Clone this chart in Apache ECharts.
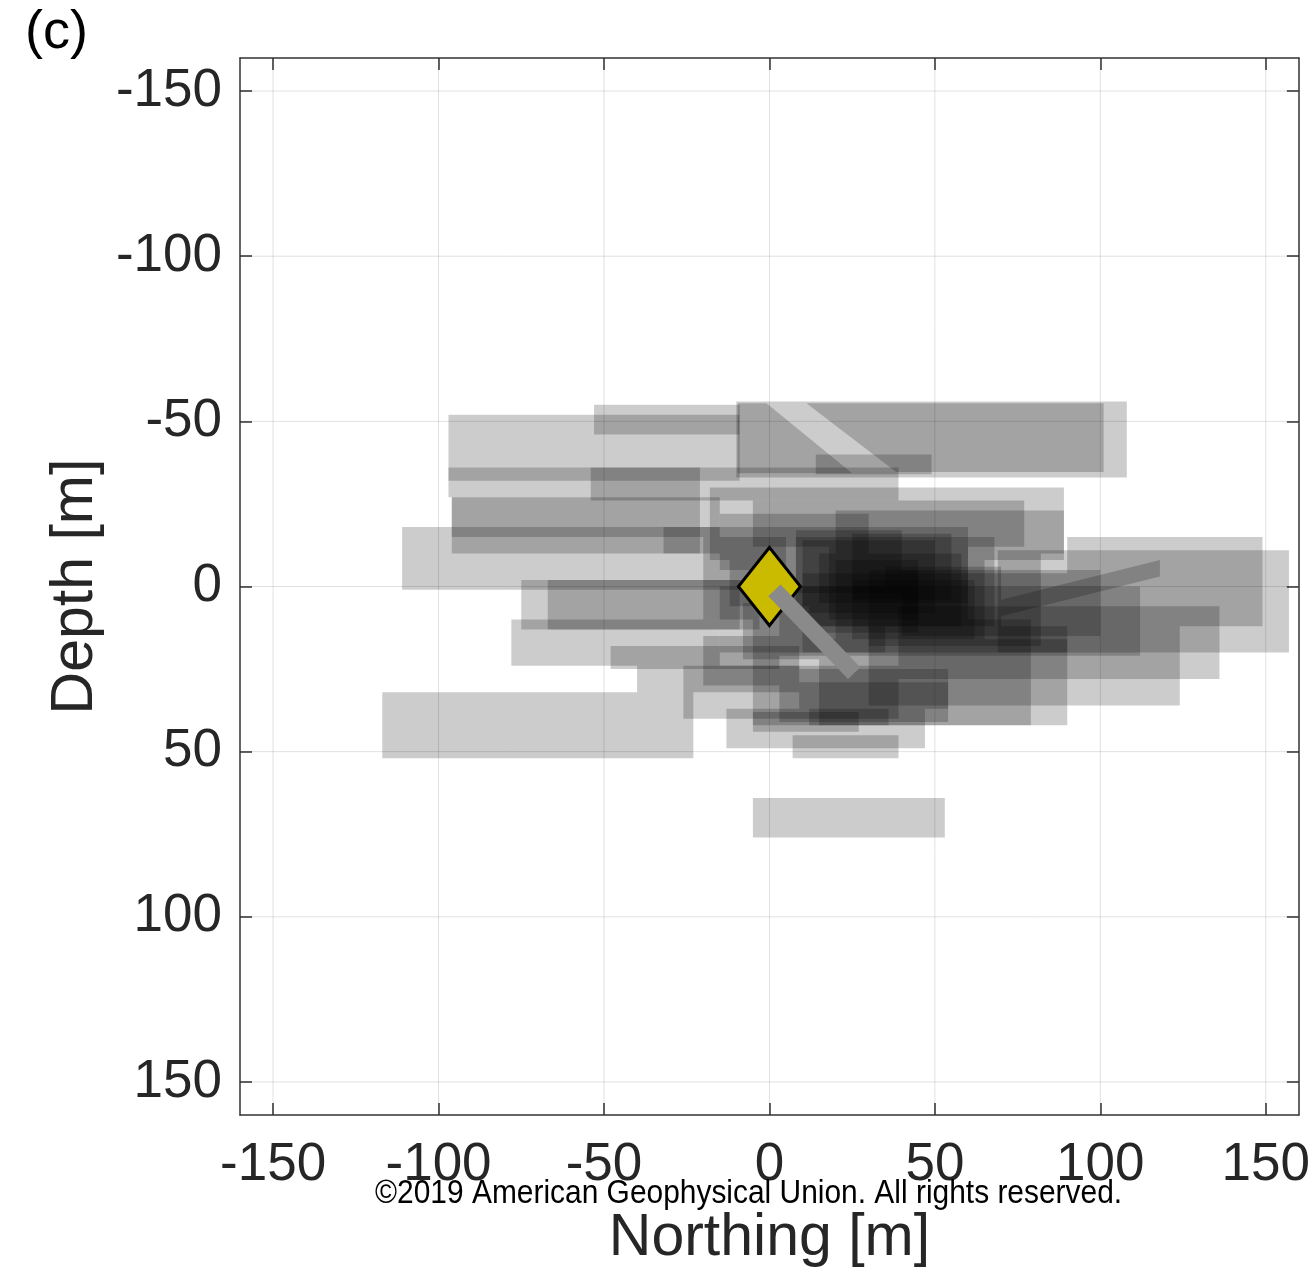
<!DOCTYPE html>
<html>
<head>
<meta charset="utf-8">
<script src="https://cdn.jsdelivr.net/npm/echarts@6/dist/echarts.min.js"></script>
<style>
html,body{margin:0;padding:0;background:#fff;}
#chart{width:1313px;height:1273px;}
</style>
</head>
<body>
<div id="chart"></div>
<script>
// ---- data (metres) ----
const xTicks = [-150, -100, -50, 0, 50, 100, 150];
const yTicks = [-150, -100, -50, 0, 50, 100, 150];
const axisMin = -160;
const axisMax = 160;

// uncertainty boxes: [northMin, northMax, depthMin, depthMax]
const boxesUpper = [
  [-53, -9, -55, -46],
  [-10, 108, -56, -33],
  [14, 49, -40, -34],
  [-97, -9, -52, -32],
  [-97, -21, -36, -27],
  [-54, 39, -36, -26],
  [-96, -21, -27, -10],
  [-96, -15, -27, -15],
  [-111, 0, -18, 1],
  [-18, 89, -30, -8],
  [20, 89, -23, -10],
  [-5, 77, -26, -12]
];
const boxesCentre = [
  [-15, 30, -22, -5],
  [0, 60, -18, 5],
  [8, 68, -15, 12],
  [15, 58, -10, 12],
  [20, 65, -8, 16],
  [5, 45, -5, 10],
  [25, 62, -2, 16],
  [30, 82, -10, 18],
  [10, 90, -4, 20],
  [-15, 35, 0, 20],
  [40, 100, -5, 15],
  [-20, 5, -15, 10],
  [-12, 12, -8, 6],
  [-8, 15, 5, 22],
  [-20, 3, 15, 30],
  [-32, -15, -18, -10],
  [8, 40, -17, 2],
  [10, 50, -14, 8],
  [18, 60, -12, 10],
  [12, 45, -8, 14],
  [25, 55, -16, 4],
  [35, 70, -6, 12]
];
const boxesRight = [
  [69, 157, -11, 20],
  [90, 149, -15, 12],
  [39, 136, 6, 28],
  [30, 124, 12, 36],
  [3, 112, 0, 21],
  [15, 90, 16, 42],
  [-5, 79, 10, 42]
];
const boxesLeft = [
  [-75, -9, -2, 13],
  [-67, -3, -2, 13],
  [-78, -15, 10, 24],
  [-48, 9, 18, 25],
  [-40, 9, 24, 32],
  [-117, -23, 32, 52],
  [-5, 53, 64, 76]
];
const boxesLower = [
  [-13, 47, 37, 49],
  [7, 39, 45, 52],
  [-5, 27, 38, 44],
  [12, 36, 37, 42],
  [9, 54, 29, 37],
  [3, 54, 25, 41],
  [-26, 39, 24, 40]
];
// tilted (rotated) uncertainty boxes, corner points [north, depth]
const tiltedBoxes = [
  [[-9.6, -55.5], [-0.9, -55.5], [25, -34.3], [-9.6, -34.3]],
  [[11.2, -55.5], [101, -55.5], [101, -34.7], [38.3, -34.7]],
  [[70, 4], [118, -8], [118, -3], [70, 9]]
];
// injection point and well trace
const injectionPoint = [[0, 0]];
const wellTrace = [[1.5, 1.2], [25.6, 26.2]];

const allBoxes = boxesUpper.concat(boxesCentre, boxesRight, boxesLeft, boxesLower);

const FONT = '"Liberation Sans", Arial, Helvetica, sans-serif';
const AX = '#333333';

function axisCommon(ticks, showLabel, margin) {
  return {
    type: 'value', min: axisMin, max: axisMax,
    axisLine: {show: true, onZero: false, lineStyle: {color: AX, width: 1.5}},
    axisTick: {show: true, inside: true, length: 12, customValues: ticks, lineStyle: {color: AX, width: 1.5}},
    axisLabel: {show: showLabel, customValues: ticks, fontSize: 53, color: '#262626', fontFamily: FONT, margin: margin},
    splitLine: {show: false}
  };
}

const chart = echarts.init(document.getElementById('chart'), null, {renderer: 'canvas'});

const option = {
  animation: false,
  backgroundColor: '#ffffff',
  title: {
    text: '(c)', left: 20, top: 1,
    textStyle: {fontSize: 54, fontWeight: 'normal', color: '#000', fontFamily: FONT}
  },
  grid: {left: 240, top: 58, width: 1061, height: 1061, containLabel: false},
  xAxis: [
    Object.assign(axisCommon(xTicks, true, 24), {
      position: 'bottom',
      name: 'Northing [m]', nameLocation: 'middle', nameGap: 94,
      nameTextStyle: {fontSize: 59, color: '#262626', fontFamily: FONT}
    }),
    Object.assign(axisCommon(xTicks, false, 18), {position: 'top'})
  ],
  yAxis: [
    Object.assign(axisCommon(yTicks, true, 18), {
      position: 'left', inverse: true,
      name: 'Depth [m]', nameLocation: 'middle', nameGap: 134, nameRotate: 90,
      nameTextStyle: {fontSize: 59, color: '#262626', fontFamily: FONT}
    }),
    Object.assign(axisCommon(yTicks, false, 18), {position: 'right', inverse: true})
  ],
  graphic: [{
    type: 'text', left: 375, top: 1177, z: 100,
    scaleX: 0.88,
    style: {text: '\u00a92019 American Geophysical Union. All rights reserved.', font: '34px ' + FONT, fill: '#000'}
  }],
  series: [
    {
      type: 'custom', name: 'gridX', z: 1, silent: true,
      data: xTicks.map(v => [v]),
      encode: {x: 0},
      renderItem: function (params, api) {
        const v = api.value(0);
        const a = api.coord([v, axisMin]);
        const b = api.coord([v, axisMax]);
        return {type: 'line', shape: {x1: a[0], y1: a[1], x2: b[0], y2: b[1]}, style: {stroke: 'rgba(0,0,0,0.12)', lineWidth: 1}};
      }
    },
    {
      type: 'custom', name: 'gridY', z: 1, silent: true,
      data: yTicks.map(v => [v]),
      encode: {y: 0},
      renderItem: function (params, api) {
        const v = api.value(0);
        const a = api.coord([axisMin, v]);
        const b = api.coord([axisMax, v]);
        return {type: 'line', shape: {x1: a[0], y1: a[1], x2: b[0], y2: b[1]}, style: {stroke: 'rgba(0,0,0,0.12)', lineWidth: 1}};
      }
    },
    {
      type: 'custom', name: 'boxes', z: 2, clip: true, silent: true,
      data: allBoxes,
      encode: {x: [0, 1], y: [2, 3]},
      renderItem: function (params, api) {
        const p0 = api.coord([api.value(0), api.value(2)]);
        const p1 = api.coord([api.value(1), api.value(3)]);
        return {
          type: 'rect',
          shape: {x: Math.min(p0[0], p1[0]), y: Math.min(p0[1], p1[1]), width: Math.abs(p1[0] - p0[0]), height: Math.abs(p1[1] - p0[1])},
          style: {fill: 'rgba(0,0,0,0.2)'}
        };
      }
    },
    {
      type: 'custom', name: 'tilted', z: 2, clip: true, silent: true,
      data: tiltedBoxes.map((p, i) => [p[0][0], p[0][1], i]),
      encode: {x: 0, y: 1},
      renderItem: function (params, api) {
        const pts = tiltedBoxes[api.value(2)].map(p => api.coord(p));
        return {type: 'polygon', shape: {points: pts}, style: {fill: 'rgba(0,0,0,0.2)'}};
      }
    },
    {
      type: 'scatter', name: 'injection', z: 5, silent: true,
      data: injectionPoint,
      symbol: 'diamond', symbolSize: [62, 78],
      itemStyle: {color: '#cbbb00', borderColor: '#000', borderWidth: 3, opacity: 1}
    },
    {
      type: 'line', name: 'well', z: 6, silent: true,
      data: wellTrace, showSymbol: false, symbol: 'none',
      lineStyle: {color: '#8a8a8a', width: 17, cap: 'butt'}
    }
  ]
};
chart.setOption(option);
</script>
</body>
</html>
